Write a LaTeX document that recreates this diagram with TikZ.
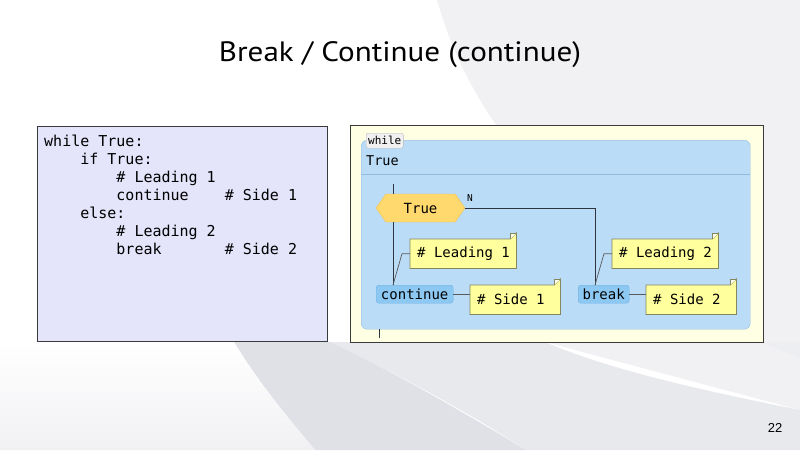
\documentclass[tikz,border=0pt]{standalone}
\usepackage{fontspec}
\setmainfont{Liberation Sans}
\setmonofont{DejaVu Sans Mono}
\newfontfamily\titlefont{PT Sans}[FakeStretch=1.11]
\usetikzlibrary{shapes.symbols,calc}

\definecolor{codebg}{HTML}{E4E4FB}
\definecolor{panelbg}{HTML}{FFFFE3}
\definecolor{loopbg}{HTML}{BADCF7}
\definecolor{loopline}{HTML}{94BCDF}
\definecolor{condfill}{HTML}{FFD96E}
\definecolor{condline}{HTML}{E9C35E}
\definecolor{stmtfill}{HTML}{8DC8F2}
\definecolor{stmtline}{HTML}{6BAFE3}
\definecolor{notefill}{HTML}{FFFF9E}
\definecolor{noteline}{HTML}{85855E}
\definecolor{frame}{HTML}{3A3A3A}
\definecolor{flow}{HTML}{2E3440}
\definecolor{swoosha}{HTML}{F1F1F4}
\definecolor{swooshb}{HTML}{DFE1E7}
\definecolor{swooshc}{HTML}{E8E9ED}
\definecolor{swooshd}{HTML}{EDEEF1}

% horizontal skip of n monospace characters
\newcommand\chars[1]{\hspace*{#1\fontcharwd\font`x}}
% folded corner of a note node
\newcommand\notecorner[1]{%
  \fill[notefill] (#1.north west) -- ($(#1.north east)+(-6,0)$) -- ($(#1.north east)+(0,-6)$)
    -- (#1.south east) -- (#1.south west) -- cycle;
  \draw[noteline, line width=0.8pt] (#1.north west) -- ($(#1.north east)+(-6,0)$) -- ($(#1.north east)+(0,-6)$)
    -- (#1.south east) -- (#1.south west) -- cycle;
  \fill[white!85!notefill] ($(#1.north east)+(-6,0)$) -- ($(#1.north east)+(-6,-6)$) -- ($(#1.north east)+(0,-6)$) -- cycle;
  \draw[noteline, line width=0.5pt] ($(#1.north east)+(-6,0)$) -- ($(#1.north east)+(-6,-6)$) -- ($(#1.north east)+(0,-6)$);
}

\begin{document}
\begin{tikzpicture}[x=1pt, y=-1pt,
  panel/.style={draw=frame, line width=0.9pt},
  stmt/.style={draw=stmtline, fill=stmtfill, rounded corners=3pt, inner sep=0,
    minimum height=18, font=\ttfamily\fontsize{14}{14}\selectfont, anchor=north west},
  cond/.style={shape=signal, signal to=west and east, signal pointer angle=110,
    draw=condline, fill=condfill, inner sep=0, minimum height=28,
    font=\ttfamily\fontsize{14}{14}\selectfont},
  note/.style={inner xsep=7, inner ysep=0, minimum height=29, align=left,
    font=\ttfamily\fontsize{14}{14}\selectfont, anchor=north west},
  wire/.style={draw=flow, line width=1pt},
  notewire/.style={draw=gray!70!black, line width=0.7pt},
  tag/.style={draw=gray!55, fill=gray!12, rounded corners=2pt, inner xsep=2, inner ysep=1.5,
    minimum width=37, minimum height=15, font=\ttfamily\fontsize{11}{11}\selectfont, anchor=north west}
]
\useasboundingbox (0,0) rectangle (800,450);

% slide background
\fill[white] (0,0) rectangle (800,450);
\fill[swoosha] (437,0) .. controls (460,80) and (500,140) .. (560,200) -- (545,342)
  -- (800,410) -- (800,0) -- cycle;
\fill[swooshd] (760,342) .. controls (775,348) and (790,353) .. (800,358) -- (800,342) -- cycle;
\fill[swooshc] (330,342) .. controls (420,385) and (480,420) .. (526,450) -- (800,450) -- (800,410)
  .. controls (700,390) and (610,370) .. (545,342) -- cycle;
\fill[swooshb] (234,342) .. controls (260,385) and (290,420) .. (315,450) -- (526,450)
  .. controls (460,410) and (390,370) .. (330,342) -- cycle;
\shade[top color=white, bottom color=swoosha] (0,342) -- (234,342)
  .. controls (260,385) and (290,420) .. (315,450) -- (0,450) -- cycle;

% title and slide number
\node[font=\titlefont\fontsize{28}{28}\selectfont] (title) at (400,55) {Break / Continue (continue)};
\node[font=\fontsize{13}{13}\selectfont] (pageno) at (775,428) {22};

% source code panel
\node[panel, fill=codebg, minimum width=290, minimum height=215, anchor=north west, inner sep=0] (code) at (37,126) {};
\node[anchor=north west, inner sep=0, align=left, font=\ttfamily\fontsize{15}{18}\selectfont] (src) at (44,134.5)
  {while\chars{1}True:\\
   \chars{4}if\chars{1}True:\\
   \chars{8}\#\chars{1}Leading\chars{1}1\\
   \chars{8}continue\chars{4}\#\chars{1}Side\chars{1}1\\
   \chars{4}else:\\
   \chars{8}\#\chars{1}Leading\chars{1}2\\
   \chars{8}break\chars{7}\#\chars{1}Side\chars{1}2};

% flowchart panel
\node[panel, fill=panelbg, minimum width=413, minimum height=217, anchor=north west, inner sep=0] (chart) at (350,125) {};
\node[draw=loopline, fill=loopbg, rounded corners=6pt, minimum width=389, minimum height=189,
  anchor=north west, inner sep=0] (loop) at (361,140) {};
\coordinate (sepy) at (0,174);
\draw[loopline, line width=0.8pt] (loop.west |- sepy) -- (loop.east |- sepy);
\node[tag] (whiletag) at (366,133) {while};
\node[anchor=west, inner sep=0, font=\ttfamily\fontsize{13.5}{13.5}\selectfont] (header) at (366,160.5) {True};

% statements and notes
\node[cond, minimum width=89] (test) at (420.5,208) {True};
\node[stmt, minimum width=77] (cont) at (376,285) {continue};
\node[stmt, minimum width=51] (brk) at (578,285) {break};
\node[note, text width=92] (lead1) at (410,239) {};
\node[note, text width=76] (side1) at (470,285) {};
\node[note, text width=92] (lead2) at (612,239) {};
\node[note, text width=76] (side2) at (646,285) {};
\notecorner{lead1}\notecorner{side1}\notecorner{lead2}\notecorner{side2}
\node[note, text width=110] at (lead1.north west) {\#\chars{1}Leading\chars{1}1};
\node[note, text width=90] at (side1.north west) {\#\chars{1}Side\chars{1}1};
\node[note, text width=110] at (lead2.north west) {\#\chars{1}Leading\chars{1}2};
\node[note, text width=90] at (side2.north west) {\#\chars{1}Side\chars{1}2};
\node[font=\ttfamily\fontsize{9.5}{9.5}\selectfont, inner sep=0, anchor=west] (nlabel) at (467,198) {N};

% control flow
\coordinate (flowtop) at (393,184);
\coordinate (contin) at ($(cont.north west)+(17,0)$);
\coordinate (brkin) at ($(brk.north west)+(17,0)$);
\coordinate (exit) at (379,338);
\draw[wire] (flowtop) -- (flowtop |- test.north);
\draw[wire] (flowtop |- test.south) -- (contin);
\draw[wire] (test.east) -| (brkin);
\draw[wire] (exit |- loop.south) -- (exit);

% note connectors
\draw[notewire] (contin) -- ($(lead1.west)+(-8,0)$) -- (lead1.west);
\draw[notewire] (cont.east) -- (cont.east -| side1.west);
\draw[notewire] (brkin) -- ($(lead2.west)+(-8,0)$) -- (lead2.west);
\draw[notewire] (brk.east) -- (brk.east -| side2.west);
\end{tikzpicture}
\end{document}
